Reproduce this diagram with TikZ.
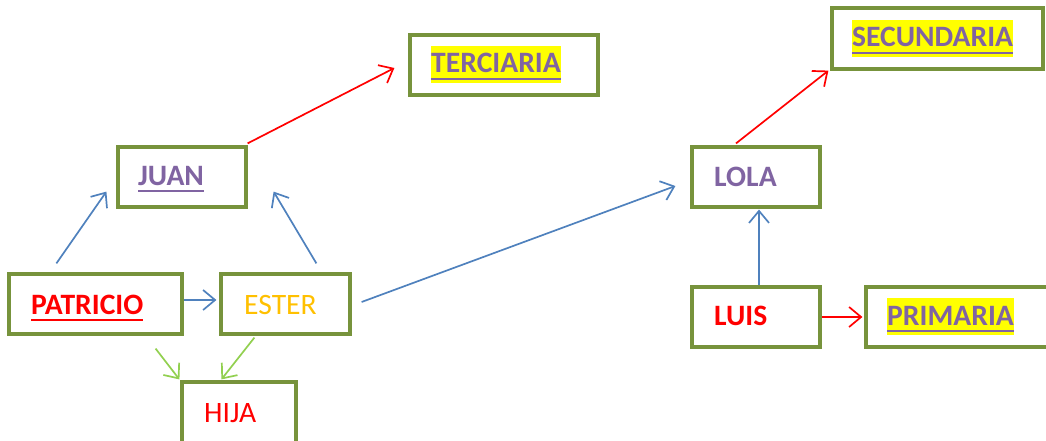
\documentclass[tikz,border=0pt]{standalone}
\usepackage{fontspec}
\setmainfont{Carlito}
\usetikzlibrary{arrows.meta}
\definecolor{boxgreen}{HTML}{77933C}
\definecolor{arrblue}{HTML}{4F81BD}
\definecolor{txtpurple}{HTML}{8064A2}
\definecolor{txtorange}{HTML}{FFC000}
\definecolor{arrgreen}{HTML}{92D050}
\definecolor{hlyellow}{HTML}{FFFF00}
\newcommand\ulx[1]{\setbox0\hbox{#1}\rlap{\rule[-7pt]{\wd0}{2.2pt}}\box0}
\newcommand\hlx[1]{{\setlength\fboxsep{0pt}\colorbox{hlyellow}{\rule[-10pt]{0pt}{37pt}\ulx{#1}}}}
\begin{document}
\begin{tikzpicture}[x=1pt,y=-1pt,
  box/.style={draw=boxgreen, line width=3.2pt, fill=white, minimum height=60pt, inner sep=0pt},
  lbl/.style={anchor=base west, inner sep=0pt, font=\fontsize{29.6}{34}\selectfont},
  blbl/.style={lbl, font=\fontsize{29.6}{34}\selectfont\bfseries},
  conn/.style={line width=1.7pt, -{Straight Barb[length=12pt,width=20pt,line width=1.7pt]}},
  blueconn/.style={conn, draw=arrblue},
  redconn/.style={conn, draw=red},
  greenconn/.style={conn, draw=arrgreen}]
\useasboundingbox (0,0) rectangle (1046,441);
\clip (0,0) rectangle (1046,441);
% boxes
\node[box, minimum width=188pt] (terciaria) at (504,65) {};
\node[box, minimum width=211pt, minimum height=61pt] (secundaria) at (937.5,38.5) {};
\node[box, minimum width=128pt] (juan) at (182,177) {};
\node[box, minimum width=128pt] (lola) at (756,177) {};
\node[box, minimum width=173pt] (patricio) at (95.5,304) {};
\node[box, minimum width=129pt] (ester) at (285.5,304) {};
\node[box, minimum width=128pt] (luis) at (756,317) {};
\node[box, minimum width=190pt] (primaria) at (961,317) {};
\node[box, minimum width=114pt, minimum height=62pt] (hija) at (239,413) {};
% texts
\node[blbl, text=txtpurple] (tterciaria) at (431,73) {\hlx{TERCIARIA}};
\node[blbl, text=txtpurple] (tsecundaria) at (852,47) {\hlx{SECUNDARIA}};
\node[blbl, text=txtpurple] (tjuan) at (138,185) {\ulx{JUAN}};
\node[blbl, text=txtpurple] (tlola) at (714,186) {LOLA};
\node[blbl, text=red] (tpatricio) at (31,314) {\ulx{PATRICIO}};
\node[lbl, text=txtorange] (tester) at (244,314) {ESTER};
\node[blbl, text=red] (tluis) at (714,325) {LUIS};
\node[blbl, text=txtpurple] (tprimaria) at (887,325) {\hlx{PRIMARIA}};
\node[lbl, text=red] (thija) at (204,422) {HIJA};
% connectors
\draw[blueconn] ([shift={(49,-9)}]patricio.north west) -- ([shift={(-10,-17)}]juan.south west);
\draw[blueconn] ([shift={(97,-9)}]ester.north west) -- ([shift={(26,-17)}]juan.south east);
\draw[blueconn] ([shift={(0,-4)}]patricio.east) -- ([shift={(-3,-4)}]ester.west);
\draw[blueconn] ([shift={(10,-2)}]ester.east) -- ([shift={(-15,9)}]lola.west);
\draw[blueconn] ([shift={(3,0)}]luis.north) -- ([shift={(3,1)}]lola.south);
\draw[redconn] ([shift={(0,-2)}]juan.north east) -- ([shift={(-14,3)}]terciaria.west);
\draw[redconn] ([shift={(-20,-2)}]lola.north) -- ([shift={(-2,0)}]secundaria.south west);
\draw[redconn] (luis.east) -- ([shift={(-2,0)}]primaria.west);
\draw[greenconn] ([shift={(-28,13)}]patricio.south east) -- ([shift={(-1,-1)}]hija.north west);
\draw[greenconn] ([shift={(35,2)}]ester.south west) -- ([shift={(41,-1)}]hija.north west);
\end{tikzpicture}
\end{document}
